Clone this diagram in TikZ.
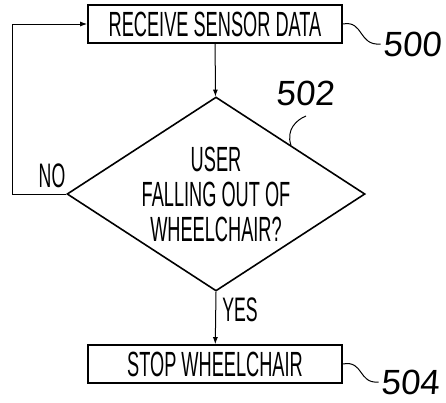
\documentclass[tikz,border=0pt]{standalone}
\usepackage{fontspec}
\usepackage{tikz}
\usetikzlibrary{arrows.meta}
\usetikzlibrary{shapes.geometric}
\newfontfamily\flowfont[FakeStretch=0.52]{Liberation Sans}
\newfontfamily\numfont[FakeSlant=0.08]{Liberation Sans}
\tikzset{
action box/.style = { rectangle, draw = black, line width = 1.6pt, fill = white, minimum width = 254pt, minimum height = 38pt, inner sep = 0pt, font = \flowfont\fontsize{35}{35}\selectfont },
decision/.style = { diamond, draw = black, line width = 1.6pt, fill = white, aspect = 1.54, minimum width = 298pt, minimum height = 194pt, inner sep = 0pt, align = center, font = \flowfont\fontsize{35}{35}\selectfont },
branch/.style = { inner sep = 0pt, font = \flowfont\fontsize{34}{35}\selectfont },
ref num/.style = { inner sep = 2pt, font = \numfont\fontsize{35}{40}\selectfont },
flow/.style = { draw = black, line width = 1pt, -{Latex[length = 7pt, width = 5pt]} },
lead/.style = { draw = black, line width = 1pt },
}

\begin{document}
\begin{tikzpicture}[x = 1pt, y = -1pt]
    \useasboundingbox (0, 0) rectangle (446, 402);
    % steps
    \node[action box] (receive) at (215, 24) {RECEIVE SENSOR DATA};
    \node[decision] (falling) at (216, 194) {USER\\FALLING OUT OF\\WHEELCHAIR?};
    \node[action box] (stop) at (215, 364) {STOP WHEELCHAIR};
    % connectors
    \coordinate (loop bottom) at (12, 194);
    \coordinate (loop top) at (12, 24);
    \draw[flow] (receive) -- (falling);
    \draw[flow] (falling.south) -- (stop);
    \draw[flow] (falling.west) -- (loop bottom) -- (loop top) -- (receive.west);
    \node[branch] (no) at (52, 176) {NO};
    \node[branch] (yes) at (240, 310) {YES};
    % reference numerals
    \node[ref num] (n500) at (412, 44) {500};
    \node[ref num] (n502) at (305, 93) {502};
    \node[ref num] (n504) at (410, 382) {504};
    \coordinate (tip 502) at (306, 116);
    \draw[lead] (receive.east) .. controls (364, 20) and (358, 46) .. (n500.west);
    \draw[lead] (falling.north east) .. controls (286, 130) and (296, 120) .. (tip 502);
    \draw[lead] (stop.east) .. controls (364, 360) and (358, 384) .. (n504.west);
\end{tikzpicture}
\end{document}
